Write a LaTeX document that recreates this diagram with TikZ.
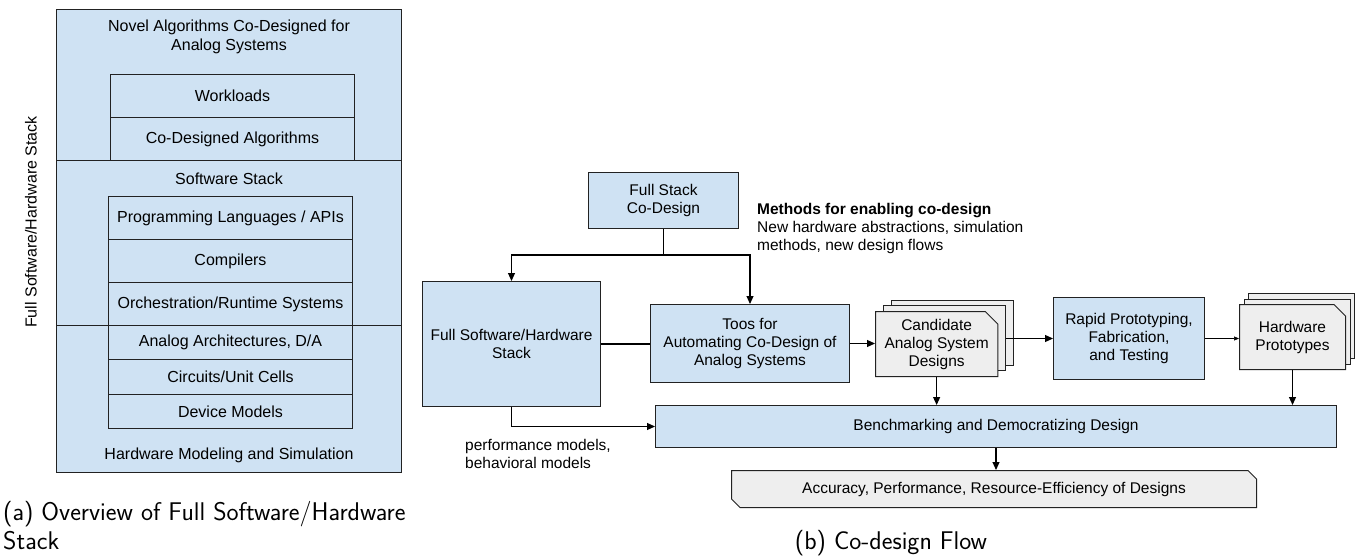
\documentclass[tikz,border=0pt]{standalone}
\usepackage{fontspec}
\setmainfont{Liberation Sans}
\usetikzlibrary{shapes.misc,arrows.meta,calc}
\definecolor{boxblue}{HTML}{CFE2F3}
\definecolor{boxgray}{HTML}{EEEEEE}
\definecolor{edge}{HTML}{222222}

\begin{document}
\begin{tikzpicture}[x=1pt,y=-1pt,
  lbl/.style={font=\fontsize{16}{19}\selectfont, align=center, inner sep=0},
  txt/.style={font=\fontsize{15.5}{18}\selectfont, inner sep=0},
  panel/.style={draw=edge, fill=boxblue, line width=1pt, inner sep=0, anchor=north west, minimum width=345pt},
  layer/.style={draw=edge, fill=boxblue, line width=1pt, inner sep=0, anchor=north west,
    minimum width=244pt, font=\fontsize{16}{19}\selectfont},
  bluebox/.style={draw=edge, fill=boxblue, line width=1pt, inner sep=0, anchor=north west,
    align=center, font=\fontsize{15.5}{18}\selectfont},
  cardbox/.style={chamfered rectangle, chamfered rectangle corners=north east,
    chamfered rectangle xsep=#1, draw=edge, fill=boxgray, line width=1pt, inner sep=0,
    anchor=north west, align=center, font=\fontsize{15.5}{18}\selectfont},
  flow/.style={draw=black, line width=1.1pt, -{Triangle[length=8pt,width=7pt]}},
  thinflow/.style={draw=black, line width=0.6pt, -{Triangle[length=5pt,width=4pt]}},
  link/.style={draw=black, line width=1.1pt},
  caption/.style={font=\sffamily\fontsize{25.6}{29}\selectfont, inner sep=0}
]
\useasboundingbox (0,0) rectangle (1360,556);

% ---------- software/hardware stack overview ----------
\node[panel, minimum height=151pt] (algo) at (56,9) {};
\node[panel, minimum height=165pt] (sws) at (56,160) {};
\node[panel, minimum height=147pt] (hws) at (56,325) {};

\node[lbl] (algot) at (229,36.5) {Novel Algorithms Co-Designed for\\Analog Systems};
\node[layer, minimum height=43pt] (wl) at (110,74) {Workloads};
\node[layer, minimum height=43pt] (cda) at (110,117) {Co-Designed Algorithms};

\node[lbl] (swst) at (229,179) {Software Stack};
\node[layer, minimum height=43pt] (pl) at (108,196) {Programming Languages / APIs};
\node[layer, minimum height=43pt] (comp) at (108,239) {Compilers};
\node[layer, minimum height=43pt] (orch) at (108,282) {Orchestration/Runtime Systems};
\node[layer, minimum height=34pt] (arch) at (108,325) {Analog Architectures, D/A};
\node[layer, minimum height=35pt] (circ) at (108,359) {Circuits/Unit Cells};
\node[layer, minimum height=34pt] (dev) at (108,394) {Device Models};
\node[lbl] (hwst) at (229,455) {Hardware Modeling and Simulation};

\node[lbl, rotate=90] (vert) at (31,222) {Full Software/Hardware Stack};

\node[caption, anchor=north west, align=left] (capa) at (3,501)
  {(a) Overview of Full Software/Hardware\\Stack};

% ---------- co-design flow ----------
\node[bluebox, minimum width=150pt, minimum height=56pt] (fsc) at (588,172) {Full Stack\\Co-Design};
\node[bluebox, minimum width=178pt, minimum height=125pt] (sw) at (422,281) {Full Software/Hardware\\Stack};
\node[bluebox, minimum width=199pt, minimum height=78pt] (toos) at (650,304)
  {Toos for\\Automating Co-Design of\\Analog Systems};

\node[cardbox=9pt, minimum width=122pt, minimum height=65pt] (cand3) at (890.5,299.5) {};
\node[cardbox=9pt, minimum width=122pt, minimum height=65pt] (cand2) at (882.7,305.3) {};
\node[cardbox=9pt, minimum width=122pt, minimum height=65pt] (cand) at (875,311)
  {\strut Candidate\\Analog System\\Designs};

\node[bluebox, minimum width=151pt, minimum height=82pt] (rapid) at (1053,297)
  {Rapid Prototyping,\\Fabrication,\\and Testing};

\node[cardbox=8pt, minimum width=106pt, minimum height=65pt] (hw3) at (1248,293.4) {};
\node[cardbox=8pt, minimum width=106pt, minimum height=65pt] (hw2) at (1243.5,298.7) {};
\node[cardbox=8pt, minimum width=106pt, minimum height=65pt] (hw) at (1239,304)
  {\strut Hardware\\Prototypes};

\node[bluebox, minimum width=681pt, minimum height=42pt] (bench) at (655,405)
  {Benchmarking and Democratizing Design};

\node[chamfered rectangle, chamfered rectangle corners={north east,south west},
  chamfered rectangle xsep=5pt, draw=edge, fill=boxgray, line width=1pt, inner sep=0,
  anchor=north west, minimum width=525pt, minimum height=37pt,
  font=\fontsize{15.5}{18}\selectfont] (acc) at (731,470)
  {Accuracy, Performance, Resource-Efficiency of Designs};

\node[txt, anchor=north west, align=left] (meth) at (757,203)
  {\textbf{Methods for enabling co-design}\\New hardware abstractions, simulation\\methods, new design flows};
\node[txt, anchor=north west, align=left] (perf) at (465,439)
  {performance models,\\behavioral models};

\node[caption, anchor=base] (capb) at (891,549) {(b) Co-design Flow};

% connectors
\coordinate (split) at ($(fsc.south)+(0,26)$);
\draw[link] (fsc.south) -- (split);
\draw[flow] (split) -| (sw.north);
\draw[flow] (split) -| (toos.north);
\draw[link] (sw.east) -- (sw.east -| toos.west);
\draw[flow] (toos.east) -- (toos.east -| cand.west);
\draw[flow] (cand2.east |- rapid.west) -- (rapid.west);
\draw[thinflow] (rapid.east) -- (rapid.east -| hw.west);
\draw[flow] (cand.south) -- (cand.south |- bench.north);
\draw[flow] (hw.south) -- (hw.south |- bench.north);
\draw[flow] (sw.south) |- (bench.west);
\draw[flow] (bench.south) -- (bench.south |- acc.north);
\end{tikzpicture}
\end{document}
